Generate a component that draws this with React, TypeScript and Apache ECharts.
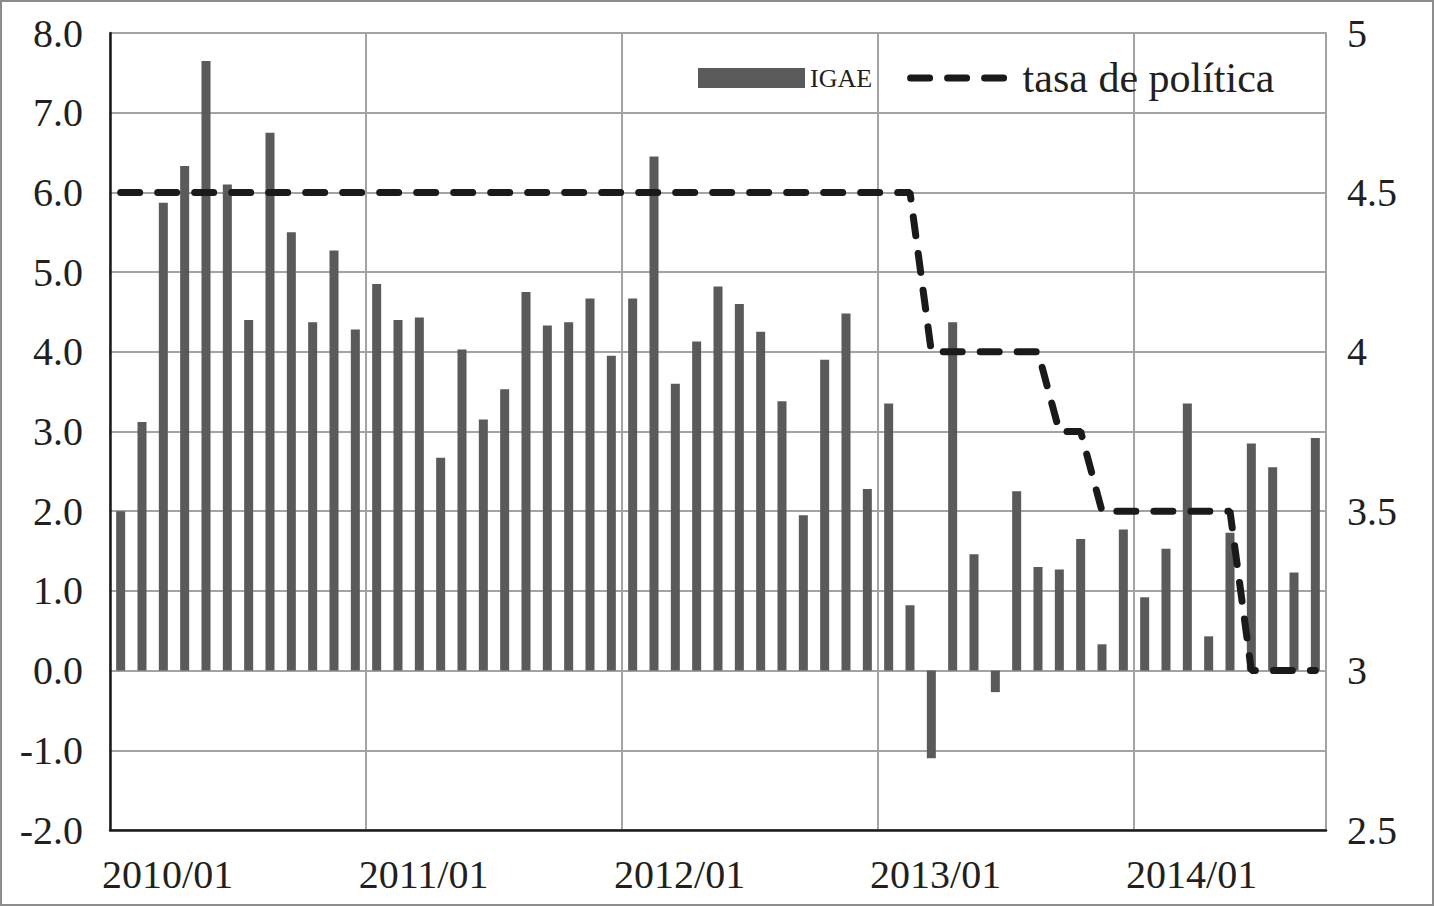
import React, { useEffect, useRef } from "react";
import * as echarts from "echarts";

const years = [2010, 2011, 2012, 2013, 2014];
const months = ["01", "02", "03", "04", "05", "06", "07", "08", "09", "10", "11", "12"];
const categories: string[] = [];
years.forEach((y) => months.forEach((m) => categories.push(`${y}/${m}`)));
categories.splice(57);

const igae = [
  2.0, 3.12, 5.87, 6.33, 7.65, 6.1, 4.4, 6.75, 5.5, 4.37, 5.27, 4.28,
  4.85, 4.4, 4.43, 2.67, 4.03, 3.15, 3.53, 4.75, 4.33, 4.37, 4.67, 3.95,
  4.67, 6.45, 3.6, 4.13, 4.82, 4.6, 4.25, 3.38, 1.95, 3.9, 4.48, 2.28,
  3.35, 0.82, -1.1, 4.37, 1.46, -0.27, 2.25, 1.3, 1.27, 1.65, 0.33, 1.77,
  0.92, 1.53, 3.35, 0.43, 1.73, 2.85, 2.55, 1.23, 2.92,
];

const tasa = [
  4.5, 4.5, 4.5, 4.5, 4.5, 4.5, 4.5, 4.5, 4.5, 4.5, 4.5, 4.5,
  4.5, 4.5, 4.5, 4.5, 4.5, 4.5, 4.5, 4.5, 4.5, 4.5, 4.5, 4.5,
  4.5, 4.5, 4.5, 4.5, 4.5, 4.5, 4.5, 4.5, 4.5, 4.5, 4.5, 4.5,
  4.5, 4.5, 4.0, 4.0, 4.0, 4.0, 4.0, 4.0, 3.75, 3.75, 3.5, 3.5,
  3.5, 3.5, 3.5, 3.5, 3.5, 3.0, 3.0, 3.0, 3.0,
];

const leftTicks = { min: -2, max: 8, interval: 1 };
const rightTicks = { min: 2.5, max: 5, interval: 0.5 };

const FONT = "'Liberation Serif', 'DejaVu Serif', serif";
const TEXT = "#231f20";
const GRID = "#a3a3a3";
const LINE = "#1a1a1a";
const DASH = { color: LINE, width: 7, type: [19, 18], cap: "round" as const };

export default function App() {
  const ref = useRef<HTMLDivElement>(null);
  useEffect(() => {
    if (!ref.current) return;
    const chart = echarts.init(ref.current, undefined, { renderer: "svg" });
    chart.setOption({
      animation: false,
      backgroundColor: "#ffffff",
      textStyle: { fontFamily: FONT, color: TEXT },
      grid: { left: 110, right: 108, top: 33, bottom: 76, containLabel: false },
      graphic: [
        {
          type: "rect",
          shape: { x: 1, y: 1, width: 1432, height: 904 },
          style: { fill: "none", stroke: "#8c8c8c", lineWidth: 2 },
          silent: true,
        },
      ],
      legend: {
        left: 693,
        top: 52,
        itemWidth: 107,
        itemHeight: 20,
        itemGap: 35,
        textStyle: { fontFamily: FONT, color: TEXT },
        data: [
          { name: "IGAE", icon: "rect", textStyle: { fontSize: 26, fontFamily: FONT, color: TEXT } },
          {
            name: "tasa de política",
            itemStyle: { opacity: 0 },
            lineStyle: { ...DASH },
            textStyle: { fontSize: 42, fontFamily: FONT, color: TEXT },
          },
        ],
      },
      xAxis: {
        type: "category",
        data: categories,
        boundaryGap: true,
        axisLine: { show: true, onZero: false, lineStyle: { color: "#1a1a1a", width: 2.5 } },
        axisTick: { show: false },
        axisLabel: {
          interval: (i: number) => i % 12 === 0,
          fontSize: 40,
          fontFamily: FONT,
          color: TEXT,
          margin: 24,
          padding: [0, 0, 0, 94],
        },
        splitLine: {
          show: true,
          interval: (i: number) => i % 12 === 0,
          lineStyle: { color: GRID, width: 2 },
        },
      },
      yAxis: [
        {
          type: "value",
          min: leftTicks.min,
          max: leftTicks.max,
          interval: leftTicks.interval,
          axisLine: { show: true, lineStyle: { color: "#1a1a1a", width: 2.5 } },
          axisTick: { show: false },
          axisLabel: {
            fontSize: 40,
            fontFamily: FONT,
            color: TEXT,
            margin: 27,
            formatter: (v: number) => v.toFixed(1),
          },
          splitLine: { show: true, lineStyle: { color: GRID, width: 2 } },
        },
        {
          type: "value",
          min: rightTicks.min,
          max: rightTicks.max,
          interval: rightTicks.interval,
          position: "right",
          axisLine: { show: true, lineStyle: { color: GRID, width: 2 } },
          axisTick: { show: false },
          axisLabel: {
            fontSize: 40,
            fontFamily: FONT,
            color: TEXT,
            margin: 21,
            formatter: (v: number) => String(v),
          },
          splitLine: { show: false },
        },
      ],
      series: [
        {
          name: "IGAE",
          type: "bar",
          data: igae,
          barWidth: 9,
          itemStyle: { color: "#5a5a5a" },
          yAxisIndex: 0,
        },
        {
          name: "tasa de política",
          type: "line",
          data: tasa,
          yAxisIndex: 1,
          symbol: "none",
          lineStyle: { ...DASH },
          itemStyle: { color: LINE },
          z: 5,
        },
      ],
    });
    return () => chart.dispose();
  }, []);
  return (
    <div
      ref={ref}
      style={{ position: "fixed", left: 0, top: 0, width: 1434, height: 906 }}
    />
  );
}
